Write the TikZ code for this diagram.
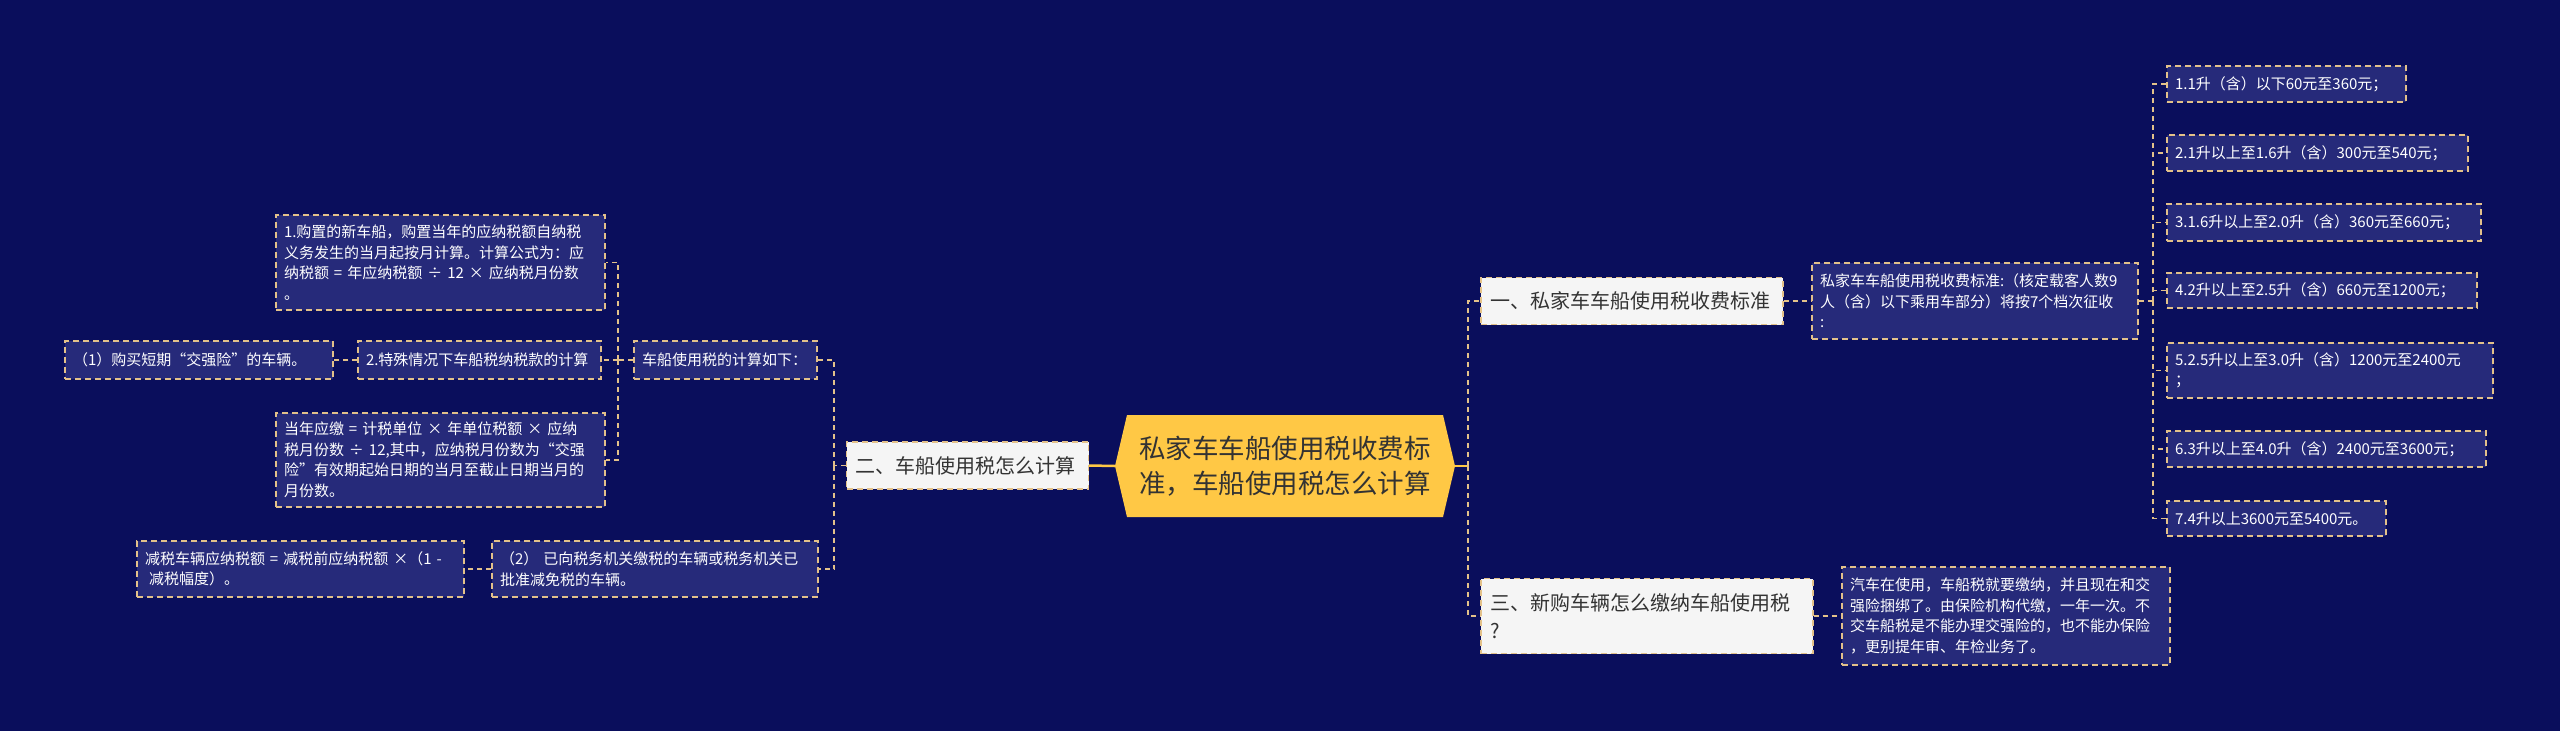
\documentclass[tikz,border=0pt]{standalone}
\usepackage{fontspec}
\newfontfamily\cjk{Noto Sans CJK SC}
\definecolor{bgc}{HTML}{0A0E5C}
\definecolor{boxc}{HTML}{262A7A}
\definecolor{lightc}{HTML}{F5F5F5}
\definecolor{bordc}{HTML}{E3C18A}
\definecolor{connc}{HTML}{E3C18A}
\definecolor{goldc}{HTML}{FFC845}
\definecolor{darktext}{HTML}{333333}
\tikzset{
  darkbox/.style={draw=bordc, fill=boxc, dash pattern=on 6pt off 4pt, line width=1.4pt,
    text=white, font=\cjk\fontsize{15pt}{20.5pt}\selectfont, align=left,
    inner xsep=8pt, inner ysep=0pt, anchor=center},
  lightbox/.style={draw=bordc, fill=lightc, dash pattern=on 6pt off 4pt, line width=1.4pt,
    text=darktext, font=\cjk\fontsize{20pt}{28pt}\selectfont, align=left,
    inner xsep=9pt, inner ysep=0pt, anchor=center},
  conn/.style={draw=connc, line width=1.5pt, dash pattern=on 5pt off 4pt},
  mainline/.style={draw=goldc, line width=2.5pt},
}
\begin{document}
\begin{tikzpicture}[x=1pt,y=-1pt]
\fill[bgc] (0,0) rectangle (2560,731);
\useasboundingbox (0,0) rectangle (2560,731);

% center
\fill[goldc] (1115,466) -- (1127,415) -- (1443,415) -- (1455,466) -- (1443,517) -- (1127,517) -- cycle;
\node[minimum width=340pt, minimum height=102pt, inner sep=0pt, text=darktext,
  font=\cjk\fontsize{26.5pt}{35pt}\selectfont, align=left] (c) at (1285,466)
  {私家车车船使用税收费标\\准，车船使用税怎么计算};

% right side
\node[lightbox, text width=284pt, minimum height=47pt] (yi) at (1632,301) {一、私家车车船使用税收费标准};
\node[lightbox, text width=314pt, minimum height=75pt] (san) at (1647,616) {三、新购车辆怎么缴纳车船使用税\\?};
\node[darkbox, text width=310pt, minimum height=76pt] (sj) at (1975,301)
  {私家车车船使用税收费标准:（核定载客人数9\\人（含）以下乘用车部分）将按7个档次征收\\:};
\node[darkbox, text width=312pt, minimum height=98pt] (qc) at (2006,616)
  {汽车在使用，车船税就要缴纳，并且现在和交\\强险捆绑了。由保险机构代缴，一年一次。不\\交车船税是不能办理交强险的，也不能办保险\\，更别提年审、年检业务了。};

\node[darkbox, text width=223pt, minimum height=36pt] (L1) at (2286.5,84) {1.1升（含）以下60元至360元；};
\node[darkbox, text width=285pt, minimum height=36pt] (L2) at (2317.5,153) {2.1升以上至1.6升（含）300元至540元；};
\node[darkbox, text width=298pt, minimum height=37pt] (L3) at (2324,222.5) {3.1.6升以上至2.0升（含）360元至660元；};
\node[darkbox, text width=294pt, minimum height=35pt] (L4) at (2322,290.5) {4.2升以上至2.5升（含）660元至1200元；};
\node[darkbox, text width=310pt, minimum height=55pt] (L5) at (2330,370.5) {5.2.5升以上至3.0升（含）1200元至2400元\\；};
\node[darkbox, text width=303pt, minimum height=36pt] (L6) at (2326.5,449) {6.3升以上至4.0升（含）2400元至3600元；};
\node[darkbox, text width=203pt, minimum height=35pt] (L7) at (2276.5,518.5) {7.4升以上3600元至5400元。};

% left side
\node[lightbox, text width=224pt, minimum height=47pt] (er) at (967.5,465.5) {二、车船使用税怎么计算};
\node[darkbox, text width=167pt, minimum height=38pt] (js) at (725.5,360) {车船使用税的计算如下：};
\node[darkbox, text width=227pt, minimum height=38pt] (ts) at (479.5,360) {2.特殊情况下车船税纳税款的计算};
\node[darkbox, text width=252pt, minimum height=38pt] (one) at (199,360) {（1）购买短期“交强险”的车辆。};
\node[darkbox, text width=313pt, minimum height=95pt] (gz) at (440.5,262.5)
  {1.购置的新车船，购置当年的应纳税额自纳税\\义务发生的当月起按月计算。计算公式为：应\\纳税额 = 年应纳税额 ÷ 12 × 应纳税月份数\\。};
\node[darkbox, text width=313pt, minimum height=94pt] (dn) at (440.5,460)
  {当年应缴 = 计税单位 × 年单位税额 × 应纳\\税月份数 ÷ 12,其中，应纳税月份数为“交强\\险”有效期起始日期的当月至截止日期当月的\\月份数。};
\node[darkbox, text width=310pt, minimum height=56pt] (yx) at (655,569)
  {（2） 已向税务机关缴税的车辆或税务机关已\\批准减免税的车辆。};
\node[darkbox, text width=311pt, minimum height=56pt] (jm) at (300.5,569)
  {减税车辆应纳税额 = 减税前应纳税额 ×（1 -\\\hspace*{4pt}减税幅度）。};

% junction coordinates
\coordinate (rj) at (1468,466);
\coordinate (lj) at (834,465.5);
\coordinate (mj) at (618,360);
\coordinate (sjj) at (2153,301);

% connectors
\draw[mainline] (c.west) -- (er.east);
\draw[mainline] (c.east) -- (rj);
\draw[conn] (rj) |- (yi.west);
\draw[conn] (rj) |- (san.west);
\draw[conn] (yi.east) -- (sj.west);
\draw[conn] (san.east) -- (qc.west);
\draw[conn] (sj.east) -- (sjj);
\foreach \i in {1,...,7} { \draw[conn] (sjj) |- (L\i.west); }

\draw[conn] (er.west) -- (lj);
\draw[conn] (lj) |- (js.east);
\draw[conn] (lj) |- (yx.east);
\draw[conn] (js.west) -- (mj);
\draw[conn] (mj) |- (gz.east);
\draw[conn] (mj) |- (ts.east);
\draw[conn] (mj) |- (dn.east);
\draw[conn] (ts.west) -- (one.east);
\draw[conn] (yx.west) -- (jm.east);
\end{tikzpicture}
\end{document}
